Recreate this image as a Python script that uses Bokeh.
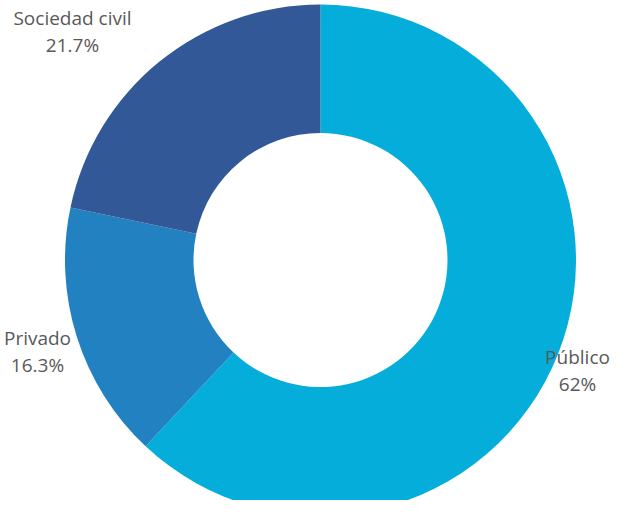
import math
from bokeh.plotting import figure
from bokeh.models import Range1d, ColumnDataSource
from bokeh.core.properties import value
from bokeh.embed import file_html
from bokeh.resources import INLINE

# ---- data ----
categories = ["Público", "Privado", "Sociedad civil"]
shares = [62.0, 16.3, 21.7]
pct_labels = ["62%", "16.3%", "21.7%"]
colors = ["#05AEDA", "#2281C1", "#335897"]

# ---- layout (picture pixel coordinates) ----
W, H = 611, 500
REF_H = 516
cx, cy_pic = 320, 259.5
outer_r, inner_r = 255.5, 127
label_pos = [(577, 356), (37, 337), (72, 17)]  # first-line centers
line_gap = 27

def py(v):
    return REF_H - v

total = sum(shares)
starts, ends = [], []
cum = 0.0
for s in shares:
    starts.append(math.pi / 2 - 2 * math.pi * cum / total)
    cum += s
    ends.append(math.pi / 2 - 2 * math.pi * cum / total)

src = ColumnDataSource(dict(cat=categories, start=starts, end=ends, color=colors))

p = figure(width=W, height=H, output_backend="svg", toolbar_location=None,
           x_range=Range1d(0, W), y_range=Range1d(py(H), py(0)),
           min_border=0, match_aspect=False)
p.axis.visible = False
p.grid.visible = False
p.outline_line_color = None
p.background_fill_color = "white"
p.border_fill_color = "white"

p.annular_wedge(x=cx, y=py(cy_pic), inner_radius=inner_r, outer_radius=outer_r,
                start_angle="start", end_angle="end", direction="clock",
                fill_color="color", line_color=None, source=src)

lx = [lp[0] for lp in label_pos]
ly1 = [py(lp[1]) for lp in label_pos]
ly2 = [py(lp[1] + line_gap) for lp in label_pos]
p.text(x=lx, y=ly1, text=categories, text_align="center", text_baseline="middle",
       text_font=value("Open Sans"), text_font_size="19px", text_color="#595959")
p.text(x=lx, y=ly2, text=pct_labels, text_align="center", text_baseline="middle",
       text_font=value("Open Sans"), text_font_size="19px", text_color="#595959")

open("out.html", "w").write(file_html(p, INLINE))
